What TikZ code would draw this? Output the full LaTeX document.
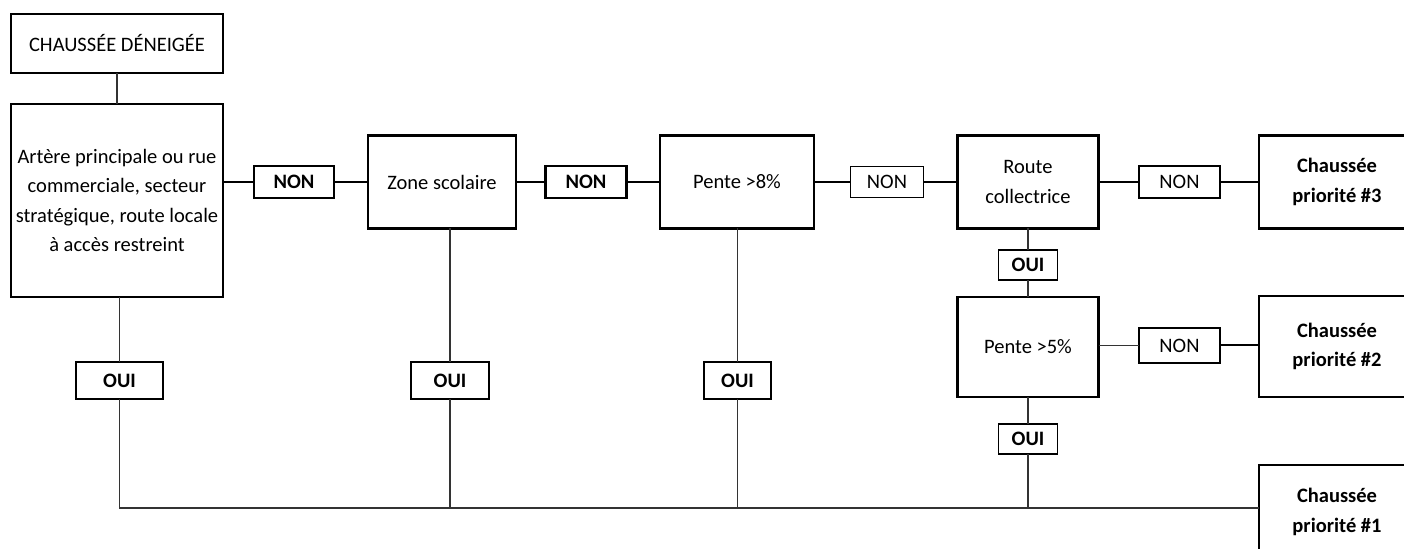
\documentclass[tikz,border=0pt]{standalone}
\usepackage{fontspec}
\setmainfont{Carlito}
\usetikzlibrary{calc}

\begin{document}
\begin{tikzpicture}[x=0.5pt,y=-0.5pt,
	box/.style={draw, line width=1.3pt, inner sep=0pt, outer sep=0pt, align=center, font=\fontsize{10.25}{14.7}\selectfont},
	answer/.style={box, line width=1.2pt, font=\fontsize{10.25}{14.7}\selectfont\bfseries},
	thinanswer/.style={answer, line width=0.6pt},
	link/.style={line width=1pt},
	thinlink/.style={line width=0.6pt, black!80}]

	% one unit is one pixel of the reference
	\def\px{0.5pt}
	\useasboundingbox (0,0) rectangle (1404,549);
	\clip (0,0) rectangle (1404,549);

	% questions along the top row
	\node[box, minimum width=212*\px, minimum height=59*\px] (deneige) at (117,43.5) {CHAUSSÉE DÉNEIGÉE};
	\node[box, minimum width=212*\px, minimum height=193*\px] (artere) at (117,200.5)
		{Artère principale ou rue\\commerciale, secteur\\stratégique, route locale\\à accès restreint};
	\node[box, minimum width=148*\px, minimum height=93*\px] (zone) at (442,182) {Zone scolaire};
	\node[box, minimum width=154*\px, minimum height=93*\px] (pentehuit) at (737,182) {Pente >8\%};
	\node[box, minimum width=141*\px, minimum height=93*\px] (route) at (1028,182) {Route\\collectrice};
	\node[box, minimum width=141*\px, minimum height=100*\px] (pentecinq) at (1028,347) {Pente >5\%};

	% results on the right, cut by the edge
	\node[box, font=\fontsize{10.25}{14.7}\selectfont\bfseries, minimum width=156*\px, minimum height=93*\px] (prioC) at (1337,182) {Chaussée\\priorité \#3};
	\node[box, font=\fontsize{10.25}{14.7}\selectfont\bfseries, minimum width=156*\px, minimum height=101*\px] (prioB) at (1337,346.5) {Chaussée\\priorité \#2};
	\node[box, font=\fontsize{10.25}{14.7}\selectfont\bfseries, minimum width=156*\px, minimum height=94*\px] (prioA) at (1337,512) {Chaussée\\priorité \#1};

	% NON answers
	\node[answer, minimum width=80*\px, minimum height=32*\px] (nonA) at (294,182) {NON};
	\node[answer, minimum width=81*\px, minimum height=32*\px] (nonB) at (586,182) {NON};
	\node[thinanswer, font=\fontsize{10.25}{14.7}\selectfont, minimum width=73*\px, minimum height=31*\px] (nonC) at (887,182) {NON};
	\node[answer, font=\fontsize{10.25}{14.7}\selectfont, minimum width=81*\px, minimum height=32*\px] (nonD) at (1179.5,182) {NON};
	\node[answer, font=\fontsize{10.25}{14.7}\selectfont, minimum width=81*\px, minimum height=35*\px] (nonE) at (1179.5,345.5) {NON};

	% OUI answers
	\node[answer, minimum width=87*\px, minimum height=37*\px] (ouiA) at (119.5,380.5) {OUI};
	\node[answer, minimum width=78*\px, minimum height=37*\px] (ouiB) at (450,380.5) {OUI};
	\node[answer, minimum width=67*\px, minimum height=37*\px] (ouiC) at (737.5,380.5) {OUI};
	\node[thinanswer, minimum width=59*\px, minimum height=30*\px] (ouiD) at (1028,265) {OUI};
	\node[thinanswer, minimum width=59*\px, minimum height=30*\px] (ouiE) at (1028,439) {OUI};

	% bottom line towards priority 1
	\coordinate (bus) at (1259,508);

	% NON connections
	\draw[thinlink] (deneige) -- (artere);
	\draw[link] (nonA.west -| artere.east) -- (nonA.west);
	\draw[link] (nonA.east) -- (nonA.east -| zone.west);
	\draw[link] (nonB.west -| zone.east) -- (nonB.west);
	\draw[link] (nonB.east) -- (nonB.east -| pentehuit.west);
	\draw[link] (nonC.west -| pentehuit.east) -- (nonC.west);
	\draw[link] (nonC.east) -- (nonC.east -| route.west);
	\draw[link] (nonD.west -| route.east) -- (nonD.west);
	\draw[link] (nonD.east) -- (nonD.east -| prioC.west);
	\draw[thinlink] (nonE.west -| pentecinq.east) -- (nonE.west);
	\draw[link] (nonE.east) -- (nonE.east -| prioB.west);

	% OUI connections
	\draw[thinlink] (artere.south -| ouiA) -- (ouiA.north);
	\draw[thinlink] (zone.south -| ouiB) -- (ouiB.north);
	\draw[thinlink] (pentehuit.south -| ouiC) -- (ouiC.north);
	\draw[thinlink] (route) -- (ouiD);
	\draw[thinlink] (ouiD) -- (pentecinq);
	\draw[thinlink] (pentecinq) -- (ouiE);
	\draw[thinlink] (ouiA.south) |- (bus);
	\draw[thinlink] (ouiB.south) -- (ouiB.south |- bus);
	\draw[thinlink] (ouiC.south) -- (ouiC.south |- bus);
	\draw[thinlink] (ouiE.south) -- (ouiE.south |- bus);

\end{tikzpicture}
\end{document}
